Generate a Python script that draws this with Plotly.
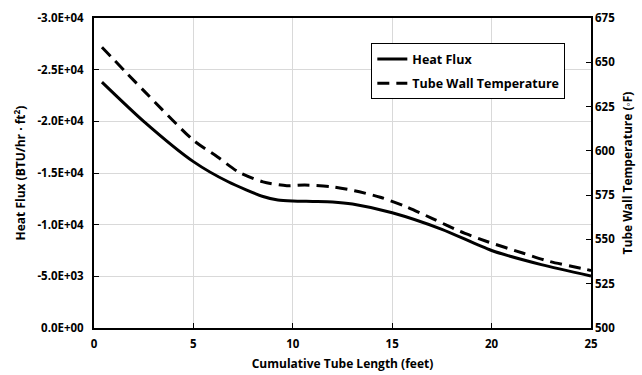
import plotly.graph_objects as go

flux_len_ft = [0.4, 2.5, 5, 6.75, 8.5, 9.25, 10, 11, 12, 13, 15, 17.5, 20, 22.5, 25]
heat_flux = [-23800, -20000, -16100, -14150, -12730, -12390, -12290, -12250,
             -12200, -12000, -11150, -9550, -7500, -6130, -5030]

temp_len_ft = [0.4, 2.5, 5, 6.2, 7.25, 8.5, 9.7, 10.6, 11.9, 13.1, 14.4, 15.7, 17,
               18.4, 19.8, 21.6, 22.9, 24.5, 25]
wall_temp = [658.5, 634, 606, 596.7, 588.2, 582.5, 580.3, 580.7, 579.8, 577.5, 573.8,
             568.5, 561.9, 554.6, 548.7, 542.2, 537.6, 533.7, 532.5]

left_ticks = [0, -5000, -10000, -15000, -20000, -25000, -30000]
left_text = [f"{v:.1E}" for v in left_ticks]
right_ticks = [500, 525, 550, 575, 600, 625, 650, 675]
x_ticks = [0, 5, 10, 15, 20, 25]

FONT = "Open Sans"
TICKFONT = dict(family=FONT, size=11.5, color="black")
TITLEFONT = dict(family=FONT, size=12, color="black")

fig = go.Figure()
fig.add_trace(go.Scatter(x=flux_len_ft, y=heat_flux, name="<b>Heat Flux</b>", mode="lines",
                         line=dict(color="black", width=3, shape="spline", smoothing=0.7),
                         legendgroup="a"))
fig.add_trace(go.Scatter(x=temp_len_ft, y=wall_temp, name="<b>Tube Wall Temperature</b>",
                         mode="lines",
                         line=dict(color="black", width=3, dash="12px,7px", shape="spline",
                                   smoothing=0.7),
                         yaxis="y2", legendgroup="b"))

fig.update_layout(
    width=642, height=375,
    margin=dict(l=94, r=51, t=18, b=47),
    plot_bgcolor="white", paper_bgcolor="white",
    font=dict(family=FONT, size=11, color="black"),
    showlegend=True,
    legend=dict(x=0.558, y=0.918, xanchor="left", yanchor="top",
                bordercolor="black", borderwidth=1, bgcolor="white",
                font=dict(family=FONT, size=12.5, color="black"),
                tracegroupgap=5),
    xaxis=dict(range=[0, 25], tickvals=x_ticks, ticktext=[f"<b>{v}</b>" for v in x_ticks],
               showgrid=True, gridcolor="#d9d9d9", gridwidth=1,
               showline=True, linecolor="black", linewidth=2, mirror=True,
               ticks="inside", ticklen=5, tickcolor="black",
               tickfont=TICKFONT, ticklabelstandoff=4, automargin=False,
               title=dict(text="<b>Cumulative Tube Length (feet)</b>", standoff=10,
                          font=TITLEFONT),
               zeroline=False),
    yaxis=dict(range=[0, -30000], tickvals=left_ticks,
               ticktext=[f"<b>{t}</b>" for t in left_text],
               showgrid=True, gridcolor="#d9d9d9", gridwidth=1,
               showline=True, linecolor="black", linewidth=2, mirror=True,
               ticks="inside", ticklen=5, tickcolor="black",
               tickfont=TICKFONT, ticklabelstandoff=6, automargin=False,
               title=dict(text="<b>Heat Flux (BTU/hr · ft<sup>2</sup>)</b>", standoff=9,
                          font=TITLEFONT),
               zeroline=False),
    yaxis2=dict(range=[500, 675], tickvals=right_ticks,
                ticktext=[f"<b>{v}</b>" for v in right_ticks],
                overlaying="y", side="right", showgrid=False,
                showline=False, ticks="inside", ticklen=5, tickcolor="black",
                tickfont=TICKFONT, ticklabelstandoff=3, automargin=False,
                title=dict(text="<b>Tube Wall Temperature (◦F)</b>", standoff=9,
                           font=TITLEFONT),
                zeroline=False),
)

fig.write_html("out.html")
